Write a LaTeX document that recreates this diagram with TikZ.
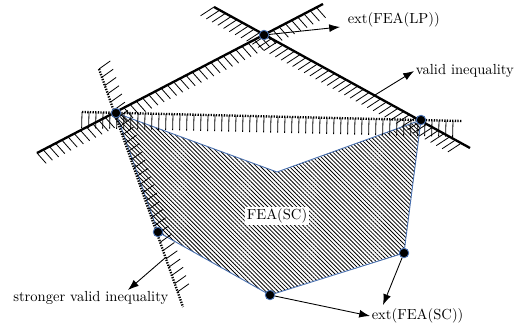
\documentclass[tikz,border=0pt]{standalone}
\usepackage{tikz}
\usetikzlibrary{arrows.meta,patterns.meta,decorations.pathreplacing}
\definecolor{EdgeBlue}{RGB}{70,110,175}
\tikzset{
  hatched/.style n args={3}{postaction={draw,solid,line width=0.55pt,decorate,
    decoration={border,segment length=#1,amplitude=#2,angle=#3}}}}

\begin{document}
\begin{tikzpicture}[x=0.0241cm,y=-0.0241cm,
  vtx/.style={circle,fill=black,draw=EdgeBlue,line width=0.6pt,minimum size=6.5pt,inner sep=0pt},
  cut/.style={line width=1.6pt},
  dotcut/.style={line width=1.6pt,dash pattern=on 0.9pt off 0.9pt},
  lbl/.style={inner sep=1pt},
  arr/.style={-{Latex[length=2.6mm,width=1.9mm]},line width=0.6pt}]
  \useasboundingbox (0,0) rectangle (519,331);
  \coordinate (A) at (116,113);
  \coordinate (N) at (277,172);
  \coordinate (B) at (421,120);
  \coordinate (C) at (404,253);
  \coordinate (D) at (270,295);
  \coordinate (E) at (158,232);
  \coordinate (LP) at (264,35);
  \draw[pattern={Lines[angle=-45,distance=2pt,line width=0.55pt]},draw=EdgeBlue,line width=0.6pt]
    (A) -- (N) -- (B) -- (C) -- (D) -- (E) -- cycle;
  \draw[cut,hatched={4.8pt}{9.5pt}{-76}] (37,153) -- (323,4);
  \draw[cut,hatched={4.5pt}{11pt}{-118}] (214,7) -- (470,148);
  \draw[dotcut,hatched={4.8pt}{11pt}{-90}] (82,112) -- (462,121);
  \draw[dotcut,hatched={6pt}{9.5pt}{106}] (99,69) -- (183,307);
  \foreach \p in {A,B,C,D,E,LP}
    \node[vtx] (p\p) at (\p) {};
  \node[lbl,anchor=west] (extlp) at (346,20) {ext(FEA(LP))};
  \node[lbl,anchor=west] (valid) at (414,71) {valid inequality};
  \node[lbl,anchor=east] (strong) at (170,298) {stronger valid inequality};
  \node[lbl,anchor=west] (extsc) at (370,316) {ext(FEA(SC))};
  \node[lbl,fill=white] (fea) at (277,216) {FEA(SC)};
  \coordinate (tLP) at (340,27);
  \coordinate (vS) at (375,95);
  \coordinate (sS) at (165,258);
  \coordinate (sT) at (128,290);
  \coordinate (tC) at (383,305);
  \draw[arr] (pLP) -- (tLP);
  \draw[arr] (vS) -- (valid.west);
  \draw[arr] (sS) -- (sT);
  \draw[arr] (pD) -- (extsc.west);
  \draw[arr] (pC) -- (tC);
\end{tikzpicture}
\end{document}
